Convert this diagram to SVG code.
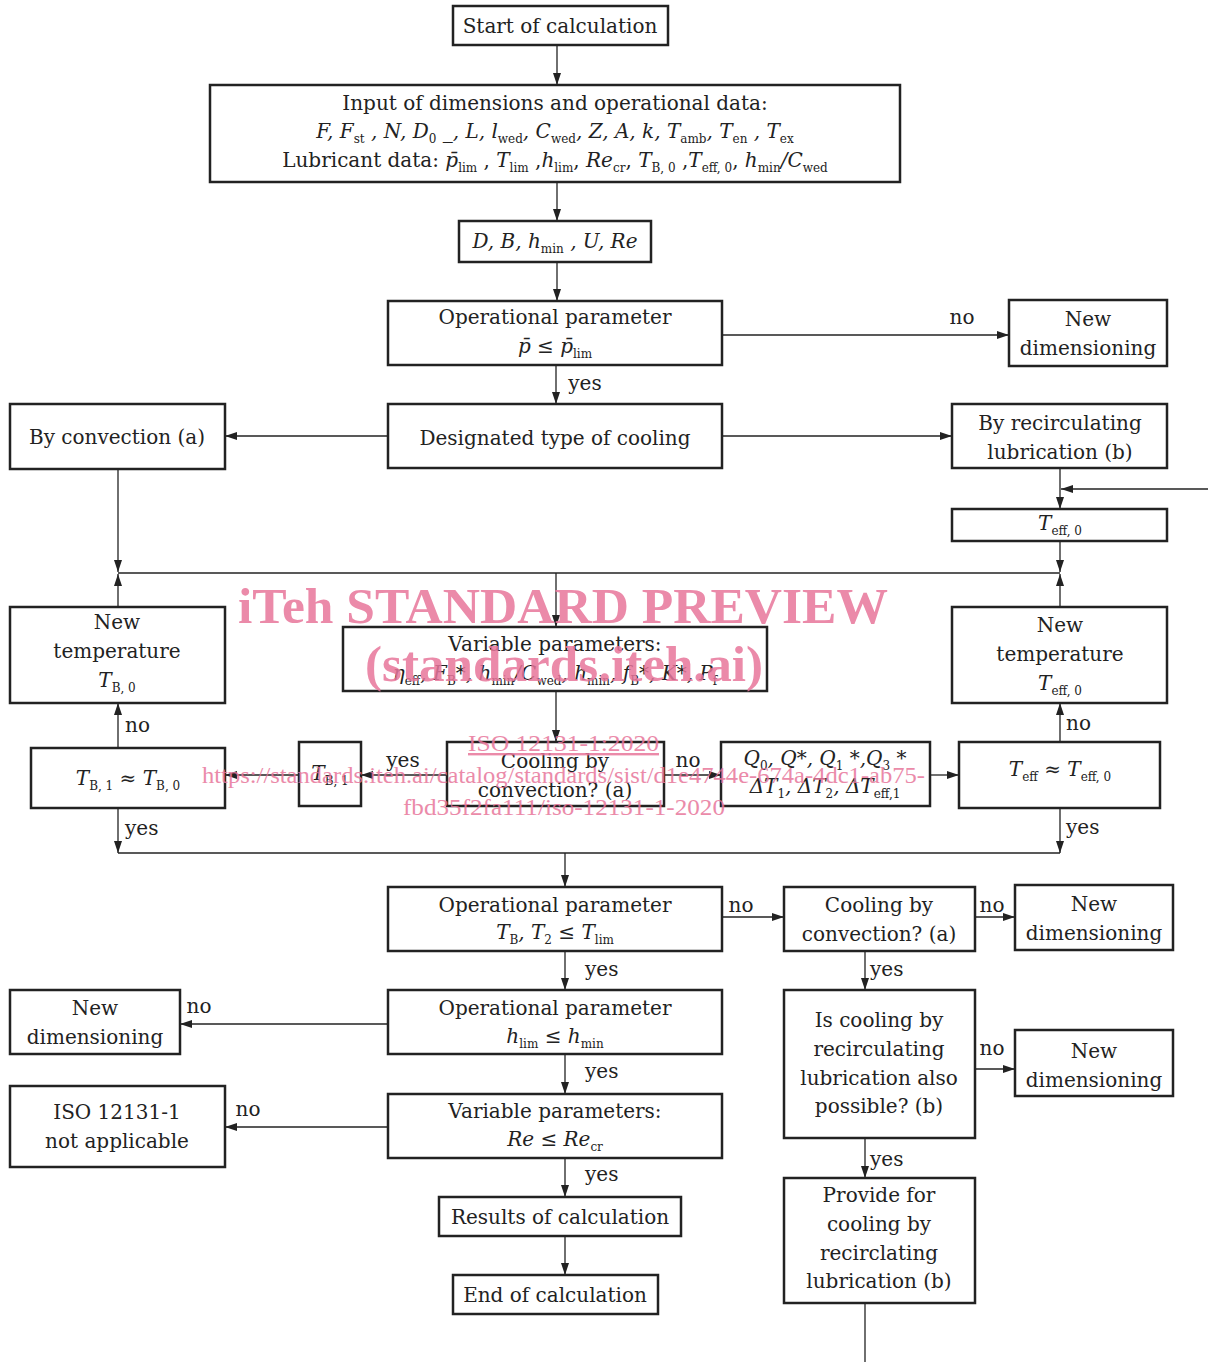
<svg xmlns="http://www.w3.org/2000/svg" width="1208" height="1362" viewBox="0 0 1208 1362">
<style>
.box{fill:#fff;stroke:#222;stroke-width:2.5}
.ln{stroke:#222;stroke-width:1.3;fill:none}
.t{font-family:"DejaVu Serif","Liberation Serif",serif;font-size:20px;fill:#222}
.m{text-anchor:middle}
.i{font-style:italic}
.s{font-size:12px;font-style:normal}
.wm{font-family:"Liberation Serif",serif;fill:#e8769b;opacity:0.85}
.wb{font-weight:bold;font-size:50px}
.wr{font-size:24px}
</style>
<defs>
<marker id="ah" viewBox="0 0 12 8" refX="12" refY="4" markerWidth="12" markerHeight="8" orient="auto" markerUnits="userSpaceOnUse"><path d="M0,0 L12,4 L0,8 z" fill="#222"/></marker>
</defs>
<rect width="1208" height="1362" fill="#fff"/>
<g id="connectors">
<path class="ln" marker-end="url(#ah)" d="M557,45 V85"/>
<path class="ln" marker-end="url(#ah)" d="M557,182 V221"/>
<path class="ln" marker-end="url(#ah)" d="M557,262 V301"/>
<path class="ln" marker-end="url(#ah)" d="M722,335 H1009"/>
<path class="ln" marker-end="url(#ah)" d="M556,365 V404"/>
<path class="ln" marker-end="url(#ah)" d="M388,436 H225"/>
<path class="ln" marker-end="url(#ah)" d="M722,436 H952"/>
<path class="ln" marker-end="url(#ah)" d="M118,469 V572"/>
<path class="ln" marker-end="url(#ah)" d="M118,607 V574"/>
<path class="ln" d="M118,573 H1060"/>
<path class="ln" marker-end="url(#ah)" d="M556,573 V627"/>
<path class="ln" marker-end="url(#ah)" d="M1060,468 V509"/>
<path class="ln" marker-end="url(#ah)" d="M1208,489 H1061"/>
<path class="ln" marker-end="url(#ah)" d="M1060,541 V572"/>
<path class="ln" marker-end="url(#ah)" d="M1060,607 V574"/>
<path class="ln" marker-end="url(#ah)" d="M556,691 V742"/>
<path class="ln" marker-end="url(#ah)" d="M447,775 H361"/>
<path class="ln" marker-end="url(#ah)" d="M299,775 H225"/>
<path class="ln" marker-end="url(#ah)" d="M118,748 V703"/>
<path class="ln" marker-end="url(#ah)" d="M118,808 V853"/>
<path class="ln" marker-end="url(#ah)" d="M664,775 H721"/>
<path class="ln" marker-end="url(#ah)" d="M930,775 H959"/>
<path class="ln" marker-end="url(#ah)" d="M1060,742 V703"/>
<path class="ln" marker-end="url(#ah)" d="M1060,808 V853"/>
<path class="ln" d="M118,853 H1060"/>
<path class="ln" marker-end="url(#ah)" d="M565,853 V887"/>
<path class="ln" marker-end="url(#ah)" d="M722,917 H784"/>
<path class="ln" marker-end="url(#ah)" d="M975,917 H1015"/>
<path class="ln" marker-end="url(#ah)" d="M865,951 V990"/>
<path class="ln" marker-end="url(#ah)" d="M975,1069 H1015"/>
<path class="ln" marker-end="url(#ah)" d="M865,1138 V1178"/>
<path class="ln" d="M865,1303 V1362"/>
<path class="ln" marker-end="url(#ah)" d="M565,951 V990"/>
<path class="ln" marker-end="url(#ah)" d="M388,1024 H180"/>
<path class="ln" marker-end="url(#ah)" d="M565,1054 V1094"/>
<path class="ln" marker-end="url(#ah)" d="M388,1127 H225"/>
<path class="ln" marker-end="url(#ah)" d="M565,1158 V1197"/>
<path class="ln" marker-end="url(#ah)" d="M565,1236 V1275"/>
</g>
<g id="labels" class="t">
<text x="962" y="324" class="m">no</text>
<text x="585" y="390" class="m">yes</text>
<text x="125" y="732">no</text>
<text x="403" y="767" class="m">yes</text>
<text x="688" y="767" class="m">no</text>
<text x="125" y="835">yes</text>
<text x="1066" y="730">no</text>
<text x="1066" y="834">yes</text>
<text x="741" y="912" class="m">no</text>
<text x="992" y="912" class="m">no</text>
<text x="870" y="976">yes</text>
<text x="992" y="1055" class="m">no</text>
<text x="870" y="1166">yes</text>
<text x="585" y="976">yes</text>
<text x="199" y="1013" class="m">no</text>
<text x="585" y="1078">yes</text>
<text x="248" y="1116" class="m">no</text>
<text x="585" y="1181">yes</text>
</g>
<g id="n-start"><rect class="box" x="453" y="6" width="215" height="39"/><text class="t m" x="560" y="33">Start of calculation</text></g>
<g id="n-input"><rect class="box" x="210" y="85" width="690" height="97"/>
<text class="t m" x="555" y="110">Input of dimensions and operational data:</text>
<text class="t m i" x="555" y="138">F, F<tspan class="s" dy="5">st</tspan><tspan dy="-5"> , N, D</tspan><tspan class="s" dy="5">0</tspan><tspan dy="-5"> _, L, l</tspan><tspan class="s" dy="5">wed</tspan><tspan dy="-5">, C</tspan><tspan class="s" dy="5">wed</tspan><tspan dy="-5">, Z, A, k, T</tspan><tspan class="s" dy="5">amb</tspan><tspan dy="-5">, T</tspan><tspan class="s" dy="5">en</tspan><tspan dy="-5"> , T</tspan><tspan class="s" dy="5">ex</tspan></text>
<text class="t m" x="555" y="167">Lubricant data: <tspan class="i">p̄</tspan><tspan class="s" dy="5">lim</tspan><tspan dy="-5"> , </tspan><tspan class="i">T</tspan><tspan class="s" dy="5">lim</tspan><tspan dy="-5"> ,</tspan><tspan class="i">h</tspan><tspan class="s" dy="5">lim</tspan><tspan dy="-5">, </tspan><tspan class="i">Re</tspan><tspan class="s" dy="5">cr</tspan><tspan dy="-5">, </tspan><tspan class="i">T</tspan><tspan class="s" dy="5">B, 0</tspan><tspan dy="-5"> ,</tspan><tspan class="i">T</tspan><tspan class="s" dy="5">eff, 0</tspan><tspan dy="-5">, </tspan><tspan class="i">h</tspan><tspan class="s" dy="5">min</tspan><tspan dy="-5" class="i">/C</tspan><tspan class="s" dy="5">wed</tspan></text></g>
<g id="n-dims"><rect class="box" x="459" y="221" width="192" height="41"/><text class="t m i" x="555" y="248">D, B, h<tspan class="s" dy="5">min</tspan><tspan dy="-5"> , U, Re</tspan></text></g>
<g id="n-op-p"><rect class="box" x="388" y="301" width="334" height="64"/><text class="t m" x="555" y="324">Operational parameter</text><text class="t m" x="555" y="353"><tspan class="i">p̄</tspan> ≤ <tspan class="i">p̄</tspan><tspan class="s" dy="5">lim</tspan></text></g>
<g id="n-newdim1"><rect class="box" x="1009" y="300" width="158" height="66"/><text class="t m" x="1088" y="326">New</text><text class="t m" x="1088" y="355">dimensioning</text></g>
<g id="n-designated"><rect class="box" x="388" y="404" width="334" height="64"/><text class="t m" x="555" y="445">Designated type of cooling</text></g>
<g id="n-byconv"><rect class="box" x="10" y="404" width="215" height="65"/><text class="t m" x="117" y="444">By convection (a)</text></g>
<g id="n-byrecirc"><rect class="box" x="952" y="404" width="215" height="64"/><text class="t m" x="1060" y="430">By recirculating</text><text class="t m" x="1060" y="459">lubrication (b)</text></g>
<g id="n-teff0"><rect class="box" x="952" y="509" width="215" height="32"/><text class="t m i" x="1060" y="530">T<tspan class="s" dy="5">eff, 0</tspan></text></g>
<g id="n-newtempB"><rect class="box" x="10" y="607" width="215" height="96"/><text class="t m" x="117" y="629">New</text><text class="t m" x="117" y="658">temperature</text><text class="t m i" x="117" y="687">T<tspan class="s" dy="5">B, 0</tspan></text></g>
<g id="n-newtempE"><rect class="box" x="952" y="607" width="215" height="96"/><text class="t m" x="1060" y="632">New</text><text class="t m" x="1060" y="661">temperature</text><text class="t m i" x="1060" y="690">T<tspan class="s" dy="5">eff, 0</tspan></text></g>
<g id="n-varparams"><rect class="box" x="343" y="627" width="424" height="64"/><text class="t m" x="555" y="651">Variable parameters:</text>
<text class="t m i" x="555" y="680">η<tspan class="s" dy="5">eff</tspan><tspan dy="-5">, F</tspan><tspan class="s" dy="5">B</tspan><tspan dy="-5">*, h</tspan><tspan class="s" dy="5">min</tspan><tspan dy="-5">/C</tspan><tspan class="s" dy="5">wed</tspan><tspan dy="-5">, h</tspan><tspan class="s" dy="5">min</tspan><tspan dy="-5">, f</tspan><tspan class="s" dy="5">B</tspan><tspan dy="-5">*, K*, P</tspan><tspan class="s" dy="5">f</tspan></text></g>
<g id="n-coolconv1"><rect class="box" x="447" y="742" width="217" height="64"/><text class="t m" x="555" y="768">Cooling by</text><text class="t m" x="555" y="797">convection? (a)</text></g>
<g id="n-tb1"><rect class="box" x="299" y="742" width="62" height="64"/><text class="t m i" x="330" y="780">T<tspan class="s" dy="5">B, 1</tspan></text></g>
<g id="n-tbapprox"><rect class="box" x="31" y="748" width="194" height="60"/><text class="t m i" x="128" y="785">T<tspan class="s" dy="5">B, 1</tspan><tspan dy="-5"> ≈ T</tspan><tspan class="s" dy="5">B, 0</tspan></text></g>
<g id="n-q"><rect class="box" x="721" y="742" width="209" height="64"/><text class="t m i" x="825" y="765">Q<tspan class="s" dy="5">0</tspan><tspan dy="-5">, Q*, Q</tspan><tspan class="s" dy="5">1</tspan><tspan dy="-5"> *,Q</tspan><tspan class="s" dy="5">3</tspan><tspan dy="-5"> *</tspan></text><text class="t m i" x="825" y="793">ΔT<tspan class="s" dy="5">1</tspan><tspan dy="-5">, ΔT</tspan><tspan class="s" dy="5">2</tspan><tspan dy="-5">, ΔT</tspan><tspan class="s" dy="5">eff,1</tspan></text></g>
<g id="n-teffapprox"><rect class="box" x="959" y="742" width="201" height="66"/><text class="t m i" x="1060" y="776">T<tspan class="s" dy="5">eff</tspan><tspan dy="-5"> ≈ T</tspan><tspan class="s" dy="5">eff, 0</tspan></text></g>
<g id="n-op-tb"><rect class="box" x="388" y="887" width="334" height="64"/><text class="t m" x="555" y="912">Operational parameter</text><text class="t m i" x="555" y="939">T<tspan class="s" dy="5">B</tspan><tspan dy="-5">, T</tspan><tspan class="s" dy="5">2</tspan><tspan dy="-5"> ≤ T</tspan><tspan class="s" dy="5">lim</tspan></text></g>
<g id="n-coolconv2"><rect class="box" x="784" y="887" width="191" height="64"/><text class="t m" x="879" y="912">Cooling by</text><text class="t m" x="879" y="941">convection? (a)</text></g>
<g id="n-newdim2"><rect class="box" x="1015" y="885" width="158" height="65"/><text class="t m" x="1094" y="911">New</text><text class="t m" x="1094" y="940">dimensioning</text></g>
<g id="n-isrecirc"><rect class="box" x="784" y="990" width="191" height="148"/><text class="t m" x="879" y="1027">Is cooling by</text><text class="t m" x="879" y="1056">recirculating</text><text class="t m" x="879" y="1085">lubrication also</text><text class="t m" x="879" y="1113">possible? (b)</text></g>
<g id="n-newdim3"><rect class="box" x="1015" y="1030" width="158" height="66"/><text class="t m" x="1094" y="1058">New</text><text class="t m" x="1094" y="1087">dimensioning</text></g>
<g id="n-provide"><rect class="box" x="784" y="1178" width="191" height="125"/><text class="t m" x="879" y="1202">Provide for</text><text class="t m" x="879" y="1231">cooling by</text><text class="t m" x="879" y="1260">recirclating</text><text class="t m" x="879" y="1288">lubrication (b)</text></g>
<g id="n-op-h"><rect class="box" x="388" y="990" width="334" height="64"/><text class="t m" x="555" y="1015">Operational parameter</text><text class="t m i" x="555" y="1043">h<tspan class="s" dy="5">lim</tspan><tspan dy="-5"> ≤ h</tspan><tspan class="s" dy="5">min</tspan></text></g>
<g id="n-newdim4"><rect class="box" x="10" y="990" width="170" height="64"/><text class="t m" x="95" y="1015">New</text><text class="t m" x="95" y="1044">dimensioning</text></g>
<g id="n-var-re"><rect class="box" x="388" y="1094" width="334" height="64"/><text class="t m" x="555" y="1118">Variable parameters:</text><text class="t m i" x="555" y="1146">Re ≤ Re<tspan class="s" dy="5">cr</tspan></text></g>
<g id="n-iso"><rect class="box" x="10" y="1086" width="215" height="81"/><text class="t m" x="117" y="1119">ISO 12131-1</text><text class="t m" x="117" y="1148">not applicable</text></g>
<g id="n-results"><rect class="box" x="439" y="1197" width="242" height="39"/><text class="t m" x="560" y="1224">Results of calculation</text></g>
<g id="n-end"><rect class="box" x="453" y="1275" width="205" height="39"/><text class="t m" x="555" y="1302">End of calculation</text></g>
<g id="watermark">
<text class="wm wb" x="238" y="623" textLength="650" lengthAdjust="spacingAndGlyphs">iTeh STANDARD PREVIEW</text>
<text class="wm wb" x="365" y="681" textLength="398" lengthAdjust="spacingAndGlyphs">(standards.iteh.ai)</text>
<text class="wm wr" x="468" y="751" textLength="191" lengthAdjust="spacingAndGlyphs" text-decoration="underline">ISO 12131-1:2020</text>
<text class="wm wr" x="202" y="783" textLength="723" lengthAdjust="spacingAndGlyphs">https://standards.iteh.ai/catalog/standards/sist/d1e4744e-674a-4dc1-ab75-</text>
<text class="wm wr" x="403" y="815" textLength="322" lengthAdjust="spacingAndGlyphs">fbd35f2fa111/iso-12131-1-2020</text>
</g>
</svg>
